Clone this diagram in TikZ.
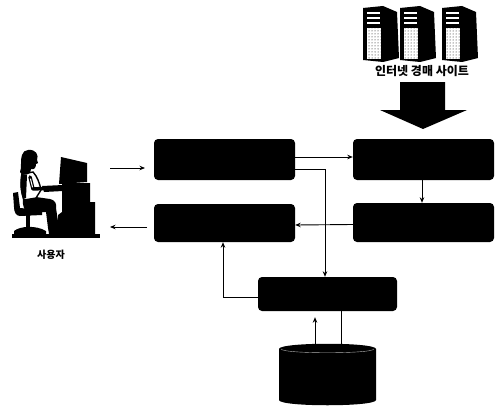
\documentclass[tikz,border=0pt]{standalone}
\usepackage{fontspec}
\newfontfamily\kr{Noto Sans CJK KR Black}
\usetikzlibrary{arrows.meta,patterns}
\begin{document}
\begin{tikzpicture}[x=1pt,y=-1pt,
  box/.style={rectangle, rounded corners=4pt, fill=black, inner sep=0pt},
  wire/.style={line width=0.9pt},
  arr/.style={wire, -{Stealth[length=5.5pt,width=4.5pt]}},
  lbl/.style={inner sep=0pt}]
\useasboundingbox (0,0) rectangle (495,412);

% ---- processing blocks ----
\node[box, minimum width=141, minimum height=41] (A) at (224.5,159.5) {};
\node[box, minimum width=141, minimum height=38] (B) at (224.5,223) {};
\node[box, minimum width=141, minimum height=41] (C) at (423.5,159.5) {};
\node[box, minimum width=141, minimum height=39] (D) at (423.5,222.5) {};
\node[box, minimum width=139, minimum height=34] (E) at (327.5,294) {};

% ---- database ----
\node[minimum width=97, minimum height=61, inner sep=0pt] (cyl) at (327.5,374.5) {};
\fill (279,349) .. controls (279,342) and (376,342) .. (376,349) -- (376,400)
  .. controls (376,407) and (279,407) .. (279,400) -- cycle;
\draw[gray!60, line width=0.4pt] (281,349) .. controls (283,354) and (372,354) .. (374,349);

% ---- connectors ----
\draw[arr] ([yshift=2.5pt]A.east) -- ([yshift=2.5pt]C.west);
\draw[arr] ([yshift=-9.5pt]A.east) -| ([xshift=-2.5pt]E.north);
\draw[arr] ([xshift=-1.5pt]C.south) -- ([xshift=-1.5pt]D.north);
\draw[arr] ([yshift=-2pt]D.west) -- ([yshift=-2pt]B.east);
\draw[arr] ([yshift=-3pt]E.west) -| ([xshift=-1.5pt]B.south);
\draw[arr] ([xshift=-12.5pt]cyl.north) -- ([xshift=-12.5pt,yshift=-6pt]E.south);
\draw[wire] ([xshift=13.5pt]E.south) -- ([xshift=13.5pt]cyl.north);

% ---- user side arrows ----
\coordinate (in0) at (110,168);
\coordinate (in1) at (145,168);
\coordinate (out0) at (147,227);
\coordinate (out1) at (110,227);
\draw[arr] (in0) -- (in1);
\draw[arr] (out0) -- (out1);

% ---- user at a workstation ----
\node[minimum width=88, minimum height=90, inner sep=0pt] (user) at (56,195) {};
% desk unit and monitor
\fill (62,183) -- (90,183) -- (90,202) -- (95,202) -- (95,237) -- (58,237) -- (58,215) -- (62,212) -- cycle;
\fill (61,157) -- (87,163) -- (87,182) -- (59,184) -- cycle;
% keyboard
\fill (42,186) -- (63,185) -- (63,191) -- (44,192) -- cycle;
% chair
\fill (13,193) -- (18,192) -- (20,208) -- (42,210) -- (42,215) -- (20,216)
  .. controls (16,216) and (14,212) .. (14,207) -- cycle;
\fill (26,215) rectangle (30,228);
\fill (14,231) .. controls (20,226) and (36,225) .. (46,231) -- (46,234) -- (14,234) -- cycle;
% legs
\fill (23,198) -- (36,197) -- (50,199) .. controls (55,200) and (57,204) .. (56,208)
  -- (59,228) -- (63,230) -- (63,234) -- (49,234) -- (48,228) -- (46,212) -- (30,213)
  .. controls (24,212) and (22,205) .. (23,198) -- cycle;
% torso
\filldraw[fill=white, draw=black, line width=1.4pt] (22,174) -- (33,172)
  .. controls (37,176) and (40,184) .. (41,190) -- (36,198) -- (24,200)
  .. controls (21,192) and (20,182) .. (22,174) -- cycle;
\fill (22,174) -- (27,175) -- (26,198) -- (23,199) .. controls (20,190) and (20,182) .. (22,174) -- cycle;
% arm
\draw[line width=3.5pt, line cap=round, line join=round] (30,177) -- (33,189) -- (54,188);
\draw[white, line width=1pt, line cap=round] (30.5,179) -- (32.5,187);
% head and hair
\fill (28,150) .. controls (36,149) and (39,155) .. (37,160) -- (38,163) -- (36,164)
  .. controls (36,168) and (34,170) .. (31,169) -- (30,173)
  .. controls (26,176) and (21,175) .. (20,172) .. controls (22,168) and (20,160) .. (22,155)
  .. controls (23,152) and (25,150) .. (28,150) -- cycle;
% floor
\fill (12,234) rectangle (100,238);
\node[lbl, font=\kr\fontsize{10}{10}\selectfont] (ulabel) at (51,255) {사용자};

% ---- auction site servers ----
\foreach \ox in {363,400,442}{
  \fill (\ox,8) -- (\ox+20,6) -- (\ox+34,12) -- (\ox+36,58) -- (\ox+20,62) -- (\ox,60) -- cycle;
  \fill[white] (\ox+4,28) rectangle (\ox+18,59);
  \fill[pattern=dots] (\ox+4,28) rectangle (\ox+18,59);
  \fill[white] (\ox+4,12) rectangle (\ox+17,14);
  \fill[white] (\ox+4,17) rectangle (\ox+17,19);
  \fill[white] (\ox+4,22) rectangle (\ox+17,24);
}
\node[lbl, font=\kr\fontsize{12}{12}\selectfont] (slabel) at (422,71) {인터넷 경매 사이트};
% feed arrow into the block below
\fill (400,82) -- (445,82) -- (445,110) -- (467,110) -- (423,129) -- (380,110) -- (400,110) -- cycle;
\end{tikzpicture}
\end{document}
